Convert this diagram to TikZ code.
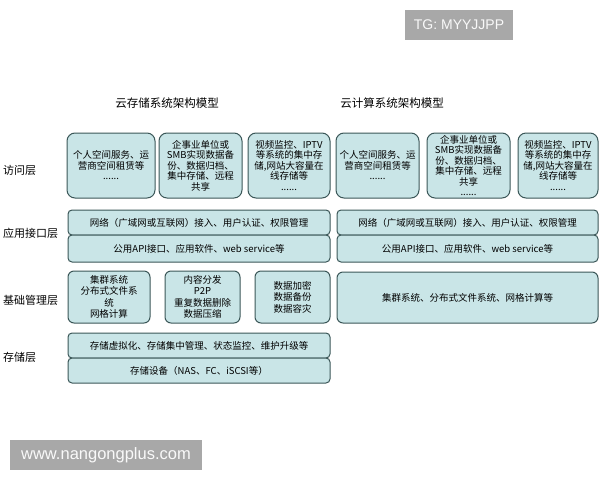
\documentclass[tikz,border=0pt]{standalone}
\usepackage{fontspec}
\setmainfont{Noto Sans CJK SC}
\newfontfamily\wmfont{Liberation Sans}
\usetikzlibrary{positioning}
\definecolor{boxfill}{HTML}{C9E5E7}
\definecolor{boxline}{HTML}{3B5758}
\definecolor{wmgray}{HTML}{A8A8A8}
\newcommand{\lnode}[3]{\node(#1)[layer] at (3,#2){#3}}

\begin{document}

\begin{tikzpicture}[x=1pt,y=-1pt,
    every node/.style={font=\fontsize{9.5}{10.5}\selectfont,inner sep=0pt},
    box/.style={rectangle,draw=boxline,fill=boxfill,line width=1pt,align=center},
    user/.style={box,rounded corners=8pt,minimum height=65pt},
    strip/.style={box,rounded corners=4pt,minimum height=25pt},
    base/.style={box,rounded corners=6pt,minimum height=52pt,
                 font=\fontsize{9.5}{11.5}\selectfont},
    layer/.style={anchor=west,font=\fontsize{11}{12}\selectfont},
    title/.style={font=\fontsize{11.5}{12}\selectfont},
    wmark/.style={fill=wmgray,text=white!95!gray,minimum height=30pt}
  ]
  \useasboundingbox (0,0) rectangle (600,480);

  % titles
  \node(t1)[title] at (167,103) {云存储系统架构模型};
  \node(t2)[title] at (392,103) {云计算系统架构模型};

  % layers
  \lnode{acc}{170}{访问层};
  \lnode{api}{233}{应用接口层};
  \lnode{mgr}{300}{基础管理层};
  \lnode{sto}{357}{存储层};

  % storage model
  \node(s1)[user,minimum width=88pt] at (111,165.5) {个人空间服务、运\\营商空间租赁等\\......};
  \node(s2)[user,minimum width=83pt] at (200.5,165.5) {企事业单位或\\SMB实现数据备\\份、数据归档、\\集中存储、远程\\共享};
  \node(s3)[user,minimum width=82pt] at (289,165.5) {视频监控、IPTV\\等系统的集中存\\储,网站大容量在\\线存储等\\......};
  \node(sa1)[strip,minimum width=262pt] at (199,222.5) {网络（广域网或互联网）接入、用户认证、权限管理};
  \node(sa2)[strip,minimum width=262pt,minimum height=27pt] at (199,248.5) {公用API接口、应用软件、web service等};
  \node(sb1)[base,minimum width=82pt] at (109,297) {集群系统\\分布式文件系\\统\\网格计算};
  \node(sb2)[base,minimum width=75pt] at (202.5,297) {内容分发\\P2P\\重复数据删除\\数据压缩};
  \node(sb3)[base,minimum width=75pt] at (292.5,297) {数据加密\\数据备份\\数据容灾};
  \node(sc1)[strip,minimum width=262pt] at (199,345.5) {存储虚拟化、存储集中管理、状态监控、维护升级等};
  \node(sc2)[strip,minimum width=262pt] at (199,370.5) {存储设备（NAS、FC、iSCSI等）};

  % computing model
  \node(c1)[user,minimum width=83pt] at (377.5,165.5) {个人空间服务、运\\营商空间租赁等\\......};
  \node(c2)[user,minimum width=83pt] at (468.5,165.5) {企事业单位或\\SMB实现数据备\\份、数据归档、\\集中存储、远程\\共享\\......};
  \node(c3)[user,minimum width=80pt] at (558,165.5) {视频监控、IPTV\\等系统的集中存\\储,网站大容量在\\线存储等\\......};
  \node(ca1)[strip,minimum width=261pt] at (467.5,222.5) {网络（广域网或互联网）接入、用户认证、权限管理};
  \node(ca2)[strip,minimum width=261pt,minimum height=27pt] at (467.5,248.5) {公用API接口、应用软件、web service等};
  \node(cb1)[base,minimum width=261pt,minimum height=51pt] at (467.5,297.5) {集群系统、分布式文件系统、网格计算等};

  % watermarks
  \node(tg)[wmark,minimum width=108pt,font=\wmfont\fontsize{14}{15}\selectfont] at (459,25) {TG: MYYJJPP};
  \node(www)[wmark,minimum width=192pt,font=\wmfont\fontsize{16.5}{17}\selectfont] at (106,455) {www.nangongplus.com};
\end{tikzpicture}

\end{document}
